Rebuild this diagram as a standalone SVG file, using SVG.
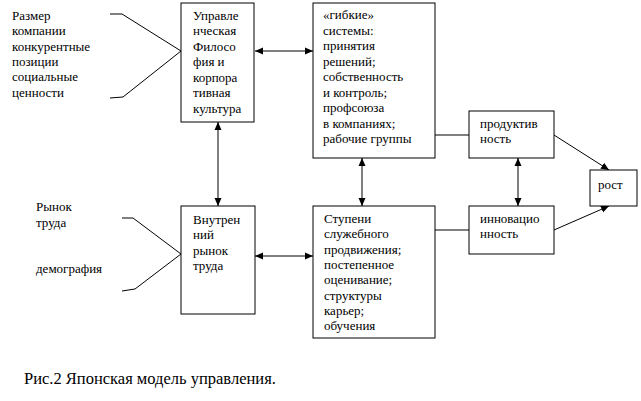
<svg xmlns="http://www.w3.org/2000/svg" width="641" height="401" viewBox="0 0 641 401">
<style>
.b{fill:#fff;stroke:#000;stroke-width:1}
.l{fill:none;stroke:#000;stroke-width:1}
.a{fill:none;stroke:#000;stroke-width:1;marker-end:url(#ah)}
.d{fill:none;stroke:#000;stroke-width:1;marker-start:url(#ah);marker-end:url(#ah)}
text{font-family:"Liberation Serif","Times New Roman",serif;font-size:13px;fill:#000}
.cap{font-size:16.5px}
</style>
<defs>
<marker id="ah" viewBox="0 0 8 8" refX="8" refY="4" markerWidth="8" markerHeight="8" markerUnits="userSpaceOnUse" orient="auto-start-reverse">
<path d="M0,0.5 L8,4 L0,7.5 Z" fill="#000"/>
</marker>
</defs>
<rect width="641" height="401" fill="#fff"/>
<g id="connectors">
<polyline class="l" points="110,14 122,14 181,51"/>
<polyline class="l" points="110,98 123,97 181,51"/>
<polyline class="l" points="122,218 133,218 181,254"/>
<polyline class="l" points="122,291 135,289 181,254"/>
<line class="d" x1="255" y1="51" x2="313" y2="51"/>
<line class="d" x1="218" y1="122" x2="218" y2="206"/>
<line class="d" x1="362" y1="158" x2="362" y2="206"/>
<line class="d" x1="518" y1="158" x2="518" y2="206"/>
<line class="d" x1="255" y1="256" x2="313" y2="256"/>
<line class="l" x1="435" y1="135" x2="469" y2="135"/>
<line class="l" x1="435" y1="230" x2="469" y2="230"/>
<line class="a" x1="554" y1="135" x2="609" y2="170"/>
<line class="a" x1="554" y1="230" x2="609" y2="206"/>
</g>
<g id="factors-top">
<text x="12" y="20">Размер</text>
<text x="12" y="35">компании</text>
<text x="12" y="51">конкурентные</text>
<text x="12" y="66">позиции</text>
<text x="12" y="81">социальные</text>
<text x="12" y="97">ценности</text>
</g>
<g id="factors-bottom">
<text x="36" y="211">Рынок</text>
<text x="36" y="227">труда</text>
<text x="36" y="273">демография</text>
</g>
<g id="philosophy">
<rect class="b" x="181" y="3" width="73" height="119"/>
<text x="193" y="20">Управле</text>
<text x="193" y="35">нческая</text>
<text x="193" y="51">Филосо</text>
<text x="193" y="66">фия и</text>
<text x="193" y="82">корпора</text>
<text x="193" y="97">тивная</text>
<text x="193" y="113">культура</text>
</g>
<g id="flexible">
<rect class="b" x="313" y="3" width="122" height="155"/>
<text x="323" y="19">«гибкие»</text>
<text x="323" y="35">системы:</text>
<text x="323" y="50">принятия</text>
<text x="323" y="66">решений;</text>
<text x="323" y="81">собственность</text>
<text x="323" y="97">и контроль;</text>
<text x="323" y="112">профсоюза</text>
<text x="323" y="128">в компаниях;</text>
<text x="323" y="143">рабочие группы</text>
</g>
<g id="productivity">
<rect class="b" x="469" y="111" width="85" height="47"/>
<text x="480" y="128">продуктив</text>
<text x="480" y="143">ность</text>
</g>
<g id="growth">
<rect class="b" x="590" y="170" width="47" height="36"/>
<text x="598" y="189">рост</text>
</g>
<g id="internal-market">
<rect class="b" x="181" y="206" width="74" height="108"/>
<text x="193" y="224">Внутрен</text>
<text x="193" y="239">ний</text>
<text x="193" y="255">рынок</text>
<text x="193" y="270">труда</text>
</g>
<g id="career">
<rect class="b" x="313" y="206" width="122" height="132"/>
<text x="324" y="223">Ступени</text>
<text x="324" y="238">служебного</text>
<text x="324" y="254">продвижения;</text>
<text x="324" y="269">постепенное</text>
<text x="324" y="284">оценивание;</text>
<text x="324" y="300">структуры</text>
<text x="324" y="315">карьер;</text>
<text x="324" y="330">обучения</text>
</g>
<g id="innovation">
<rect class="b" x="469" y="206" width="85" height="48"/>
<text x="480" y="223">инновацио</text>
<text x="480" y="238">нность</text>
</g>
<g id="caption">
<text class="cap" x="24" y="384">Рис.2 Японская модель управления.</text>
</g>
</svg>
